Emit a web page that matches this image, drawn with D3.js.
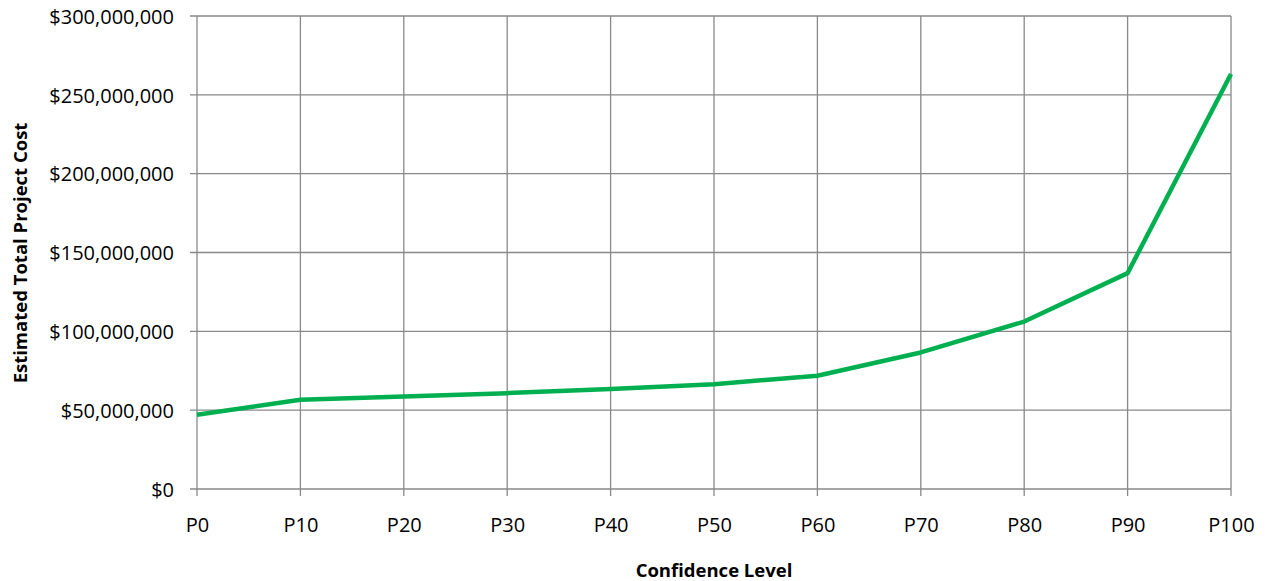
<!DOCTYPE html>
<html>
<head>
<meta charset="utf-8">
<script src="https://cdn.jsdelivr.net/npm/d3@7"></script>
<style>
  body { margin: 0; background: #fff; }
  svg { display: block; }
  .tick text { font-family: "Open Sans", sans-serif; font-size: 20px; fill: #000; }
  .axis-title { font-family: "Open Sans", sans-serif; font-size: 18.5px; font-weight: bold; fill: #000; }
</style>
</head>
<body>
<div id="chart"></div>
<script>
// Confidence levels and estimated total project cost (USD)
const categories = ['P0', 'P10', 'P20', 'P30', 'P40', 'P50', 'P60', 'P70', 'P80', 'P90', 'P100'];
const costValues = [47100000, 56600000, 58700000, 60800000, 63400000, 66500000,
                    71800000, 86600000, 106200000, 136900000, 263200000];
const yTicks = [0, 50000000, 100000000, 150000000, 200000000, 250000000, 300000000];

const width = 1266;
const height = 581;
const margin = { top: 16, right: 35, bottom: 92, left: 197 };
const innerW = width - margin.left - margin.right;
const innerH = height - margin.top - margin.bottom;

const svg = d3.select('#chart').append('svg')
  .attr('width', width)
  .attr('height', height);

const g = svg.append('g')
  .attr('transform', `translate(${margin.left},${margin.top})`);

const x = d3.scalePoint()
  .domain(categories)
  .range([0, innerW]);

const y = d3.scaleLinear()
  .domain([0, 300000000])
  .range([innerH, 0]);

const gridColor = '#898989';

// Horizontal gridlines
g.append('g')
  .selectAll('line')
  .data(yTicks)
  .enter()
  .append('line')
  .attr('x1', -7)
  .attr('x2', innerW)
  .attr('y1', d => y(d))
  .attr('y2', d => y(d))
  .attr('stroke', gridColor)
  .attr('stroke-width', 1.3);

// Vertical gridlines
g.append('g')
  .selectAll('line')
  .data(categories)
  .enter()
  .append('line')
  .attr('x1', d => x(d))
  .attr('x2', d => x(d))
  .attr('y1', 0)
  .attr('y2', innerH + 7)
  .attr('stroke', gridColor)
  .attr('stroke-width', 1.3);

// Y axis labels
const fmt = d3.format('$,.0f');
const yAxis = g.append('g')
  .call(d3.axisLeft(y).tickValues(yTicks).tickFormat(fmt).tickSize(0).tickPadding(23));
yAxis.select('.domain').remove();
yAxis.selectAll('.tick text').attr('dy', '0.36em');

// X axis labels
const xAxis = g.append('g')
  .attr('transform', `translate(0,${innerH})`)
  .call(d3.axisBottom(x).tickSize(0).tickPadding(29));
xAxis.select('.domain').remove();

// Cost line
const line = d3.line()
  .x((d, i) => x(categories[i]))
  .y(d => y(d));

g.append('path')
  .datum(costValues)
  .attr('fill', 'none')
  .attr('stroke', '#00b050')
  .attr('stroke-width', 4.5)
  .attr('stroke-linejoin', 'round')
  .attr('d', line);

// Axis titles
svg.append('text')
  .attr('class', 'axis-title')
  .attr('x', margin.left + innerW / 2)
  .attr('y', 577)
  .attr('text-anchor', 'middle')
  .text('Confidence Level');

svg.append('text')
  .attr('class', 'axis-title')
  .attr('transform', `translate(27,${253}) rotate(-90)`)
  .attr('text-anchor', 'middle')
  .text('Estimated Total Project Cost');
</script>
</body>
</html>
